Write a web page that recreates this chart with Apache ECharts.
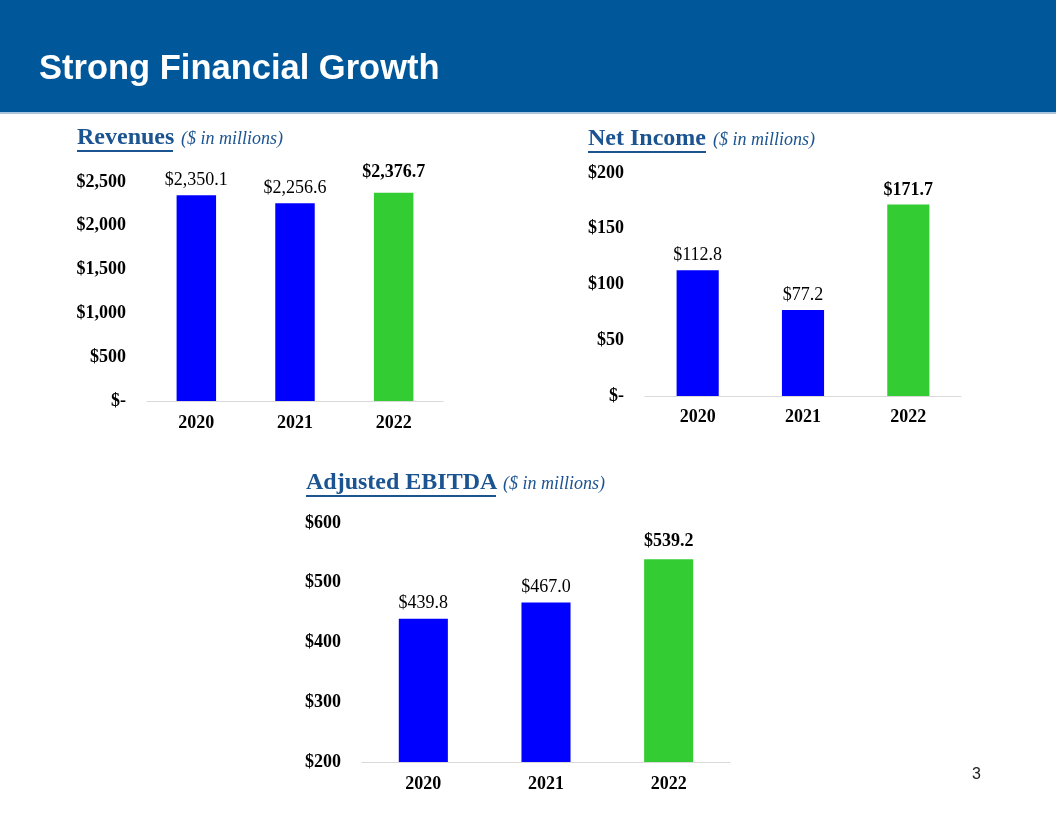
<!DOCTYPE html>
<html>
<head>
<meta charset="utf-8">
<script src="https://cdn.jsdelivr.net/npm/echarts@6/dist/echarts.min.js"></script>
<style>
html,body{margin:0;padding:0;background:#fff;}
#c{width:1056px;height:816px;}
</style>
</head>
<body>
<div id="c"></div>
<script>
var years = ['2020', '2021', '2022'];
var revenues = [2350.1, 2256.6, 2376.7];
var netIncome = [112.8, 77.2, 171.7];
var ebitda = [439.8, 467.0, 539.2];
var revTicks = {min: 0, max: 2500, interval: 500};
var niTicks = {min: 0, max: 200, interval: 50};
var ebTicks = {min: 200, max: 600, interval: 100};

var BLUE = '#0000FF', GREEN = '#33CC33', TITLE = '#1B5491', SERIF = '"Liberation Serif","Times New Roman",serif';

function money(v, dec) {
  var s = Number(v).toFixed(dec);
  var parts = s.split('.');
  parts[0] = parts[0].replace(/\B(?=(\d{3})+(?!\d))/g, ',');
  return '$' + parts.join('.');
}
function axisFmt(v) { return v === 0 ? '$-' : money(v, 0); }

function barData(vals, dists) {
  return vals.map(function (v, i) {
    var last = i === vals.length - 1;
    return {
      value: v,
      itemStyle: {color: last ? GREEN : BLUE},
      label: {fontWeight: last ? 'bold' : 'normal', distance: dists[i]}
    };
  });
}

var grids = [
  {left: 147, top: 182, width: 296, height: 219},
  {left: 645, top: 173, width: 316, height: 223},
  {left: 362, top: 523, width: 368, height: 239}
];
var ticks = [revTicks, niTicks, ebTicks];
var series = [revenues, netIncome, ebitda];
var dists = [[6, 6, 11], [6, 6, 5], [6, 6, 9]];
var xMargins = [13, 12, 13];

var xAxes = [], yAxes = [], ser = [];
grids.forEach(function (g, i) {
  xAxes.push({
    type: 'category', data: years, gridIndex: i,
    axisLine: {lineStyle: {color: '#D9D9D9', width: 1}},
    axisTick: {show: false},
    axisLabel: {fontFamily: SERIF, fontWeight: 'bold', fontSize: 18, color: '#000', margin: xMargins[i]}
  });
  yAxes.push({
    type: 'value', gridIndex: i, min: ticks[i].min, max: ticks[i].max, interval: ticks[i].interval,
    axisLine: {show: false}, axisTick: {show: false}, splitLine: {show: false},
    axisLabel: {fontFamily: SERIF, fontWeight: 'bold', fontSize: 18, color: '#000', margin: 21, formatter: axisFmt}
  });
  ser.push({
    type: 'bar', xAxisIndex: i, yAxisIndex: i, barWidth: '40%',
    data: barData(series[i], dists[i]),
    label: {show: true, position: 'top', fontFamily: SERIF, fontSize: 18, color: '#000',
      formatter: function (p) { return money(p.value, 1); }}
  });
});

function title(x, y, main, sub, subX, ulEnd) {
  return [
    {type: 'text', left: x, top: y - 12, style: {text: main, font: 'bold 24px ' + SERIF, fill: TITLE}},
    {type: 'text', left: subX, top: y - 8, style: {text: sub, font: 'italic 18px ' + SERIF, fill: TITLE}},
    {type: 'line', shape: {x1: x, y1: y + 13, x2: ulEnd, y2: y + 13}, style: {stroke: TITLE, lineWidth: 2}}
  ];
}

var graphics = [
  {type: 'rect', shape: {x: 0, y: 0, width: 1056, height: 112}, style: {fill: '#00579A'}},
  {type: 'rect', shape: {x: 0, y: 112, width: 1056, height: 2}, style: {fill: '#A9C4DD'}},
  {type: 'text', left: 39, top: 52, style: {text: 'Strong Financial Growth', font: 'bold 34.5px "Liberation Sans", Arial, sans-serif', fill: '#fff'}},
  {type: 'text', left: 972, top: 767, style: {text: '3', font: '16px "Liberation Sans", Arial, sans-serif', fill: '#222'}}
].concat(
  title(77, 138, 'Revenues', '($ in millions)', 181, 173),
  title(588, 139, 'Net Income', '($ in millions)', 713, 706),
  title(306, 483, 'Adjusted EBITDA', '($ in millions)', 503, 496)
);

var chart = echarts.init(document.getElementById('c'), null, {renderer: 'canvas'});
chart.setOption({
  animation: false,
  grid: grids,
  xAxis: xAxes,
  yAxis: yAxes,
  series: ser,
  graphic: graphics
});
</script>
</body>
</html>
